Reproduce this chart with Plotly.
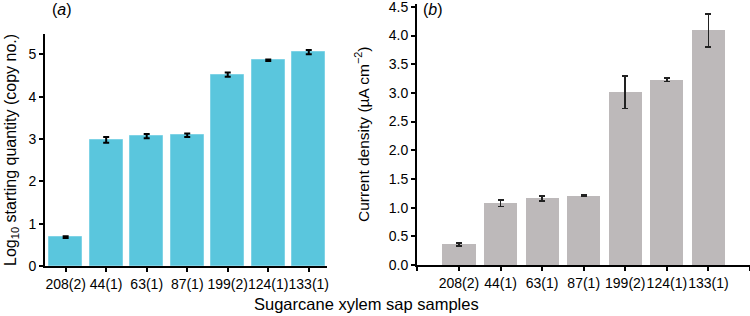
import plotly.graph_objects as go

samples = ["208(2)", "44(1)", "63(1)", "87(1)", "199(2)", "124(1)", "133(1)"]
log_qty = [0.68, 2.98, 3.07, 3.09, 4.52, 4.86, 5.05]
log_qty_err = [0.02, 0.07, 0.05, 0.04, 0.05, 0.02, 0.05]
current = [0.36, 1.08, 1.16, 1.21, 3.01, 3.23, 4.09]
current_err = [0.03, 0.06, 0.04, 0.01, 0.28, 0.03, 0.29]

W, H = 750, 316
def px_x(a, b):
    return [a / W, b / W]
def px_y(top, bottom):
    return [(H - bottom) / H, (H - top) / H]

pos = list(range(len(samples)))
font = "Liberation Sans, Arial, Helvetica, sans-serif"

fig = go.Figure()
fig.add_trace(go.Bar(
    x=pos, y=log_qty, width=0.81, xaxis="x", yaxis="y",
    marker=dict(color="#5AC6DD", line=dict(color="#7FD3E6", width=1)),
    error_y=dict(type="data", array=log_qty_err, color="black", thickness=2, width=3),
    showlegend=False))
fig.add_trace(go.Bar(
    x=pos, y=current, width=0.8, xaxis="x2", yaxis="y2",
    marker=dict(color="#BDB9BA", line=dict(width=0)),
    error_y=dict(type="data", array=current_err, color="#222", thickness=1.8, width=3),
    showlegend=False))

axcommon = dict(showgrid=False, zeroline=False, showline=True, linecolor="black",
                ticks="outside", ticklen=4, tickcolor="black", automargin=False,
                ticklabeloverflow="allow",
                tickfont=dict(size=14, color="black", family=font))

fig.update_layout(
    width=W, height=H, margin=dict(l=0, r=0, t=0, b=0),
    paper_bgcolor="white", plot_bgcolor="white", bargap=0,
    font=dict(family=font, color="black"),
    xaxis=dict(domain=px_x(45, 327), range=[-0.51, 6.45], tickvals=pos, ticktext=samples,
               anchor="y", linewidth=2, tickwidth=2, tickangle=0, **axcommon),
    yaxis=dict(domain=px_y(34, 266), range=[0, 5.48], dtick=1, anchor="x",
               linewidth=2, tickwidth=2, **axcommon),
    xaxis2=dict(domain=px_x(417, 750), range=[-1.01, 7.0], tickvals=[-1] + pos + [7],
                ticktext=[""] + samples + [""], anchor="y2", tickangle=0,
                linewidth=2, tickwidth=2, **axcommon),
    yaxis2=dict(domain=px_y(4, 265), range=[0, 4.55], dtick=0.5, tickformat=".1f",
                anchor="x2", linewidth=2, tickwidth=2, **axcommon),
)

ann = [
    dict(text="(<i>a</i>)", x=50 / W, y=(H - 10) / H, xanchor="left", yanchor="middle", font=dict(size=16)),
    dict(text="(<i>b</i>)", x=421 / W, y=(H - 9) / H, xanchor="left", yanchor="middle", font=dict(size=16)),
    dict(text="Log<sub>10</sub> starting quantity (copy no.)", x=11 / W, y=(H - 150) / H,
         textangle=-90, xanchor="center", yanchor="middle", font=dict(size=16)),
    dict(text="Current density (µA cm<sup>−2</sup>)", x=362 / W, y=(H - 134) / H,
         textangle=-90, xanchor="center", yanchor="middle", font=dict(size=15.5)),
    dict(text="Sugarcane xylem sap samples", x=366 / W, y=(H - 304) / H,
         xanchor="center", yanchor="middle", font=dict(size=16.5)),
]
for a in ann:
    a.update(xref="paper", yref="paper", showarrow=False)
fig.update_layout(annotations=ann)

fig.write_html("out.html", config={"displayModeBar": False},
               post_script="document.body.style.margin='0';document.body.style.padding='0';")
